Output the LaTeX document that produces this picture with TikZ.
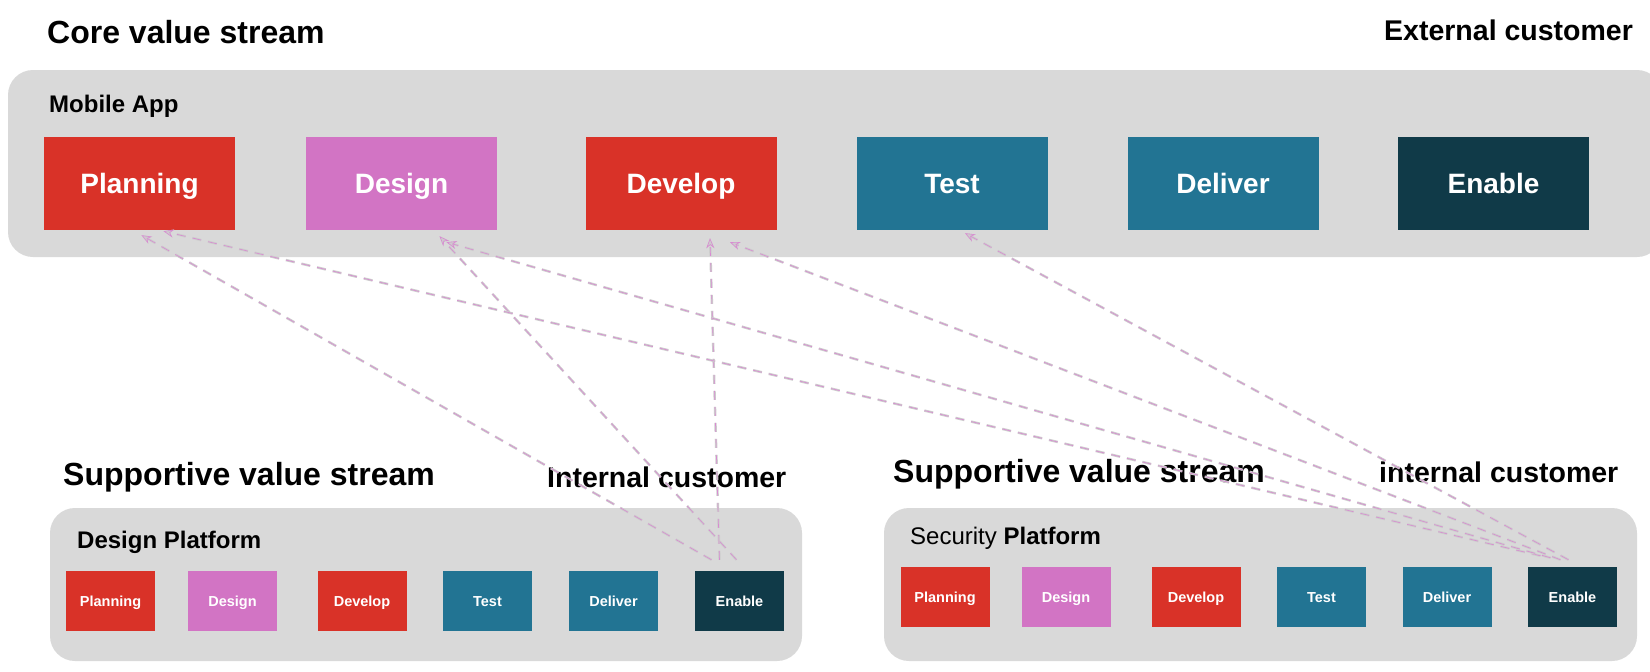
\documentclass[tikz,border=0pt]{standalone}
\usepackage{fontspec}
\setmainfont{Liberation Sans}
\usetikzlibrary{arrows.meta}

\definecolor{planred}{HTML}{D93228}
\definecolor{designpink}{HTML}{D274C4}
\definecolor{testteal}{HTML}{227493}
\definecolor{enabledark}{HTML}{103A48}
\definecolor{panelgray}{HTML}{D9D9D9}
\definecolor{linkgray}{HTML}{CDCDCD}
\definecolor{linkpink}{HTML}{D98AD2}

\begin{document}
\begin{tikzpicture}[x=1pt,y=-1pt,
    stage/.style={minimum width=191pt,minimum height=93pt,inner sep=0pt,
      text height=20pt,text depth=-2pt,
      text=white,font=\fontsize{28}{32}\selectfont\bfseries},
    smallstage/.style={minimum width=89pt,minimum height=60pt,inner sep=0pt,
      text height=10.5pt,text depth=0pt,
      text=white,font=\fontsize{14.5}{16}\selectfont\bfseries},
    streampanel/.style={fill=panelgray,rounded corners=25pt},
    heading/.style={anchor=base west,inner sep=0pt,font=\fontsize{32}{36}\selectfont\bfseries},
    customer/.style={anchor=base west,inner sep=0pt,font=\fontsize{28.5}{32}\selectfont\bfseries},
    panelname/.style={anchor=base west,inner sep=0pt,font=\fontsize{24}{28}\selectfont\bfseries},
    feed/.style={draw=linkpink,line width=0.6pt,dash pattern=on 9pt off 7pt,
      -{Stealth[open,length=10pt,width=8pt]},
      preaction={draw=linkgray,line width=2.4pt,dash pattern=on 9pt off 7pt}}]

  \useasboundingbox[fill=white] (0,0) rectangle (1650,672);

  % Panels
  \fill[streampanel] (8,70) rectangle (1662,257);
  \fill[streampanel] (50,508) rectangle (802,661);
  \fill[streampanel] (884,508) rectangle (1637,661);

  % Headings
  \node[heading] (coretitle) at (47,43) {Core value stream};
  \node[customer] (extcustomer) at (1384,40) {External customer};
  \node[panelname] (mobileapp) at (49,112) {Mobile App};

  \node[heading] (dptitle) at (63,485) {Supportive value stream};
  \node[customer] (dpcustomer) at (547,487) {Internal customer};
  \node[panelname] (dpname) at (77,548) {Design Platform};

  \node[heading] (sptitle) at (893,482) {Supportive value stream};
  \node[customer] (spcustomer) at (1379,482) {internal customer};
  \node[panelname] (spname) at (910,544) {{\mdseries Security} Platform};

  % Core value stream
  \node[stage,fill=planred] (coreplan) at (139.5,183.5) {Planning};
  \node[stage,fill=designpink] (coredesign) at (401.5,183.5) {Design};
  \node[stage,fill=planred] (coredevelop) at (681,183.5) {Develop};
  \node[stage,fill=testteal] (coretest) at (952,183.5) {Test};
  \node[stage,fill=testteal] (coredeliver) at (1223,183.5) {Deliver};
  \node[stage,fill=enabledark] (coreenable) at (1493.5,183.5) {Enable};

  % Design platform
  \node[smallstage,fill=planred] (dpplan) at (110.5,601) {Planning};
  \node[smallstage,fill=designpink] (dpdesign) at (232.5,601) {Design};
  \node[smallstage,fill=planred] (dpdevelop) at (362,601) {Develop};
  \node[smallstage,fill=testteal] (dptest) at (487.5,601) {Test};
  \node[smallstage,fill=testteal] (dpdeliver) at (613.5,601) {Deliver};
  \node[smallstage,fill=enabledark] (dpenable) at (739.5,601) {Enable};

  % Security platform
  \node[smallstage,fill=planred] (spplan) at (945,597) {Planning};
  \node[smallstage,fill=designpink] (spdesign) at (1066,597) {Design};
  \node[smallstage,fill=planred] (spdevelop) at (1196,597) {Develop};
  \node[smallstage,fill=testteal] (sptest) at (1321.5,597) {Test};
  \node[smallstage,fill=testteal] (spdeliver) at (1447,597) {Deliver};
  \node[smallstage,fill=enabledark] (spenable) at (1572.5,597) {Enable};

  % Internal customers feeding the core stream
  \draw[feed] ([xshift=-28pt,yshift=11pt]dpenable.north) -- ([xshift=2pt,yshift=-5pt]coreplan.south);
  \draw[feed] ([xshift=-3pt,yshift=11pt]dpenable.north) -- ([xshift=38pt,yshift=-6pt]coredesign.south);
  \draw[feed] ([xshift=-20pt,yshift=11pt]dpenable.north) -- ([xshift=29pt,yshift=-8pt]coredevelop.south);

  \draw[feed] ([xshift=-32pt,yshift=11pt]spenable.north) -- ([xshift=24pt,yshift=-1pt]coreplan.south);
  \draw[feed] ([xshift=-22pt,yshift=9pt]spenable.north) -- ([xshift=45pt,yshift=-12pt]coredesign.south);
  \draw[feed] ([xshift=-12pt,yshift=7pt]spenable.north) -- ([xshift=49pt,yshift=-12pt]coredevelop.south);
  \draw[feed] ([xshift=-4pt,yshift=7pt]spenable.north) -- ([xshift=13pt,yshift=-3pt]coretest.south);
\end{tikzpicture}
\end{document}
